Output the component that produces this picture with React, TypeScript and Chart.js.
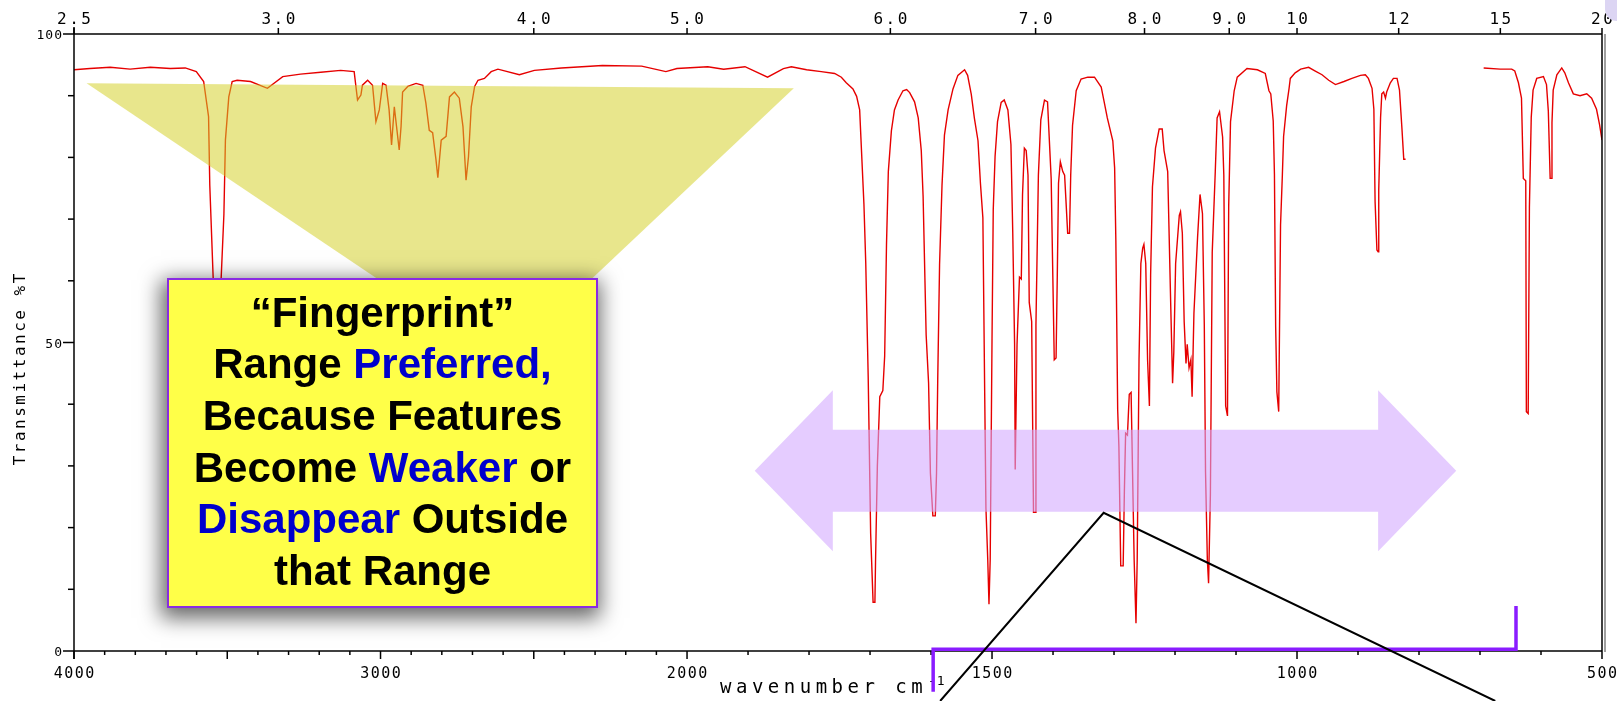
import React, { useEffect, useRef } from "react";
import { Chart, registerables } from "chart.js";

Chart.register(...registerables);

// ---- spectrum data (wavenumber cm-1, transmittance %T); null = gap in the trace ----
const WAVENUMBERS = [
  4000, 3948, 3882, 3817, 3751, 3686, 3637, 3601, 3577, 3561,
  3557, 3546, 3540, 3530, 3522, 3511, 3506, 3495, 3484, 3468,
  3424, 3369, 3319, 3261, 3195, 3130, 3086, 3075, 3064, 3059,
  3042, 3026, 3015, 3004, 2993, 2982, 2972, 2964, 2955, 2939,
  2933, 2928, 2911, 2884, 2862, 2852, 2841, 2830, 2819, 2813,
  2802, 2786, 2775, 2759, 2743, 2731, 2721, 2713, 2704, 2693,
  2682, 2661, 2639, 2617, 2547, 2498, 2410, 2276, 2148, 2069,
  2033, 1966, 1940, 1905, 1868, 1842, 1829, 1804, 1780, 1758,
  1747, 1739, 1728, 1722, 1717, 1714, 1710, 1707, 1703, 1699,
  1695, 1692, 1691, 1688, 1684, 1679, 1676, 1673, 1670, 1665,
  1660, 1654, 1646, 1640, 1635, 1627, 1621, 1616, 1613, 1608,
  1604, 1601, 1597, 1593, 1591, 1589, 1586, 1582, 1578, 1572,
  1564, 1556, 1545, 1540, 1534, 1529, 1523, 1519, 1515, 1512,
  1510, 1507, 1505, 1503, 1500, 1498, 1495, 1491, 1485, 1480,
  1474, 1469, 1466, 1463, 1462, 1459, 1455, 1452, 1450, 1447,
  1444, 1441, 1439, 1435, 1432, 1429, 1428, 1424, 1420, 1414,
  1409, 1403, 1401, 1398, 1395, 1393, 1391, 1388, 1384, 1381,
  1379, 1376, 1373, 1371, 1368, 1362, 1354, 1343, 1332, 1321,
  1316, 1311, 1302, 1299, 1297, 1294, 1292, 1289, 1285, 1283,
  1281, 1278, 1275, 1272, 1270, 1267, 1264, 1262, 1259, 1256,
  1253, 1251, 1248, 1245, 1242, 1240, 1237, 1232, 1226, 1221,
  1218, 1212, 1210, 1207, 1204, 1202, 1199, 1193, 1191, 1188,
  1185, 1182, 1180, 1177, 1174, 1172, 1169, 1163, 1159, 1155,
  1152, 1150, 1147, 1145, 1142, 1139, 1134, 1131, 1127, 1122,
  1120, 1117, 1114, 1112, 1109, 1103, 1098, 1082, 1065, 1052,
  1046, 1043, 1039, 1037, 1035, 1033, 1030, 1027, 1024, 1022,
  1017, 1013, 1011, 1003, 994, 981, 970, 959, 948, 937,
  923, 910, 896, 888, 883, 877, 874, 872, 869, 867,
  866, 863, 861, 858, 855, 853, 847, 842, 836, 832,
  828, 825, 822, 760, 694, 667, 648, 643, 637, 632,
  629, 625, 624, 621, 619, 616, 613, 607, 596, 591,
  588, 585, 583, 582, 580, 574, 566, 561, 555, 547,
  536, 525, 517, 509, 504, 500,
];

const TRANSMITTANCE = [
  94.2, 94.4, 94.6, 94.3, 94.6, 94.4, 94.5, 93.9, 92.3, 86.6,
  75.5, 60.5, 40, 35, 58, 70.7, 82.8, 89.8, 92.3, 92.5,
  92.3, 91.2, 93.1, 93.5, 93.8, 94.1, 93.9, 89.3, 90.1, 91.7,
  92.5, 91.7, 85.8, 87.7, 92.0, 91.7, 87.7, 82.0, 88.2, 81.2,
  85.0, 90.6, 91.5, 92.0, 91.7, 88.8, 84.4, 84.0, 79.6, 76.7,
  82.8, 83.4, 89.8, 90.6, 89.6, 85.0, 76.3, 80.1, 88.2, 91.5,
  92.5, 92.8, 93.9, 94.3, 93.4, 94.1, 94.5, 94.9, 94.8, 93.9,
  94.4, 94.7, 94.3, 94.7, 93.0, 94.4, 94.7, 94.2, 93.9, 93.6,
  93.0, 92.1, 91.1, 89.9, 87.7, 81.1, 72.4, 62.8, 44.4, 19.1,
  7.9, 7.9, 14.4, 30.0, 41.2, 42.2, 47.8, 65.9, 77.7, 84.3,
  87.7, 89.3, 90.8, 91.0, 90.5, 89.0, 86.4, 81.1, 73.7, 51.2,
  43.4, 28.8, 21.9, 21.9, 28.8, 44.1, 62.6, 75.5, 83.6, 87.7,
  91.1, 93.3, 94.2, 93.3, 90.2, 86.4, 82.7, 75.8, 70.2, 41.6,
  23.2, 14.8, 7.6, 14.8, 50.6, 71.5, 80.2, 85.8, 88.9, 89.3,
  87.7, 82.1, 67.7, 49.7, 29.4, 49.7, 60.6, 60.3, 74.0, 81.5,
  81.1, 77.1, 56.5, 53.4, 22.5, 22.5, 52.8, 77.1, 86.1, 89.3,
  89.0, 76.5, 64.6, 47.2, 47.5, 60.9, 75.8, 79.3, 77.7, 77.1,
  73.4, 67.7, 67.7, 77.1, 85.2, 90.8, 92.7, 93.0, 93.0, 91.4,
  88.9, 86.4, 82.7, 78.3, 66.5, 39.1, 33.1, 13.8, 13.8, 26.0,
  35.3, 35.0, 41.6, 41.9, 31.0, 14.8, 4.5, 14.8, 47.2, 62.8,
  65.3, 65.9, 62.8, 47.2, 39.7, 60.9, 75.2, 81.5, 84.6, 84.6,
  81.1, 77.7, 69.0, 55.9, 43.4, 48.4, 62.8, 70.6, 71.2, 67.7,
  53.4, 46.6, 49.7, 45.9, 47.2, 41.2, 54.7, 67.1, 74.0, 70.9,
  52.8, 29.1, 14.8, 11.0, 25.4, 64.6, 77.7, 86.4, 87.4, 83.3,
  77.1, 39.7, 38.1, 72.1, 85.8, 90.8, 93.0, 94.4, 94.2, 93.6,
  90.8, 90.3, 85.9, 77.2, 52.6, 42.0, 38.8, 69.1, 77.2, 83.4,
  88.4, 91.2, 92.8, 93.7, 94.3, 94.6, 94.0, 93.4, 92.5, 91.8,
  92.3, 92.8, 93.3, 93.4, 92.8, 91.2, 87.8, 72.8, 65.0, 64.7,
  74.7, 86.5, 90.3, 90.6, 89.6, 90.6, 92.1, 92.8, 92.8, 90.9,
  84.7, 79.7, 79.7, null, 94.5, 94.3, 94.3, 94.0, 92.1, 89.6,
  76.6, 76.2, 38.8, 38.5, 71.9, 86.5, 90.9, 92.8, 93.1, 91.8,
  87.5, 76.6, 76.6, 85.6, 90.9, 93.4, 94.5, 93.7, 92.1, 90.3,
  90.0, 90.3, 89.6, 87.8, 85.3, 82.8,
];

// ---- axes ----
const WN_MAX = 4000;
const WN_MIN = 500;
const WN_SPLIT = 2000; // scale doubles below 2000 cm-1
const SPLIT_STRETCH = 1.99;
const BOTTOM_TICK_STEP = 100;
const BOTTOM_MAJOR_STEP = 500;
const BOTTOM_LABELS = [4000, 3000, 2000, 1500, 1000, 500];
const TOP_WAVELENGTHS = [2.5, 3, 4, 5, 6, 7, 8, 9, 10, 12, 15, 20];
const TOP_LABELS = ["2.5", "3.0", "4.0", "5.0", "6.0", "7.0", "8.0", "9.0", "10", "12", "15", "20"];
const Y_MIN = 0;
const Y_MAX = 100;
const Y_TICK_STEP = 10;
const Y_LABELS = [0, 50, 100];
const Y_TITLE = "Transmittance %T";
const X_TITLE = "wavenumber cm";
const X_TITLE_SUP = "-1";

// ---- annotations, anchored in data units [wavenumber, %T] ----
const FUNNEL = [[3959, 92.0], [1825, 91.2], [2418, 55.3], [2860, 55.3]];
const ARROW_WN = [1889, 1761, 867, 739]; // left tip, left head base, right head base, right tip
const ARROW_MID = 29.2;
const ARROW_SHAFT_HALF = 6.65;
const ARROW_HEAD_HALF = 13.05;
const CALLOUT_LINES = [[1585, -8.1], [1317, 22.4], [675, -8.1]];
const BRACKET = [[1596.5, -6.6], [1596.5, 0.3], [641, 0.3], [641, 7.3]];

const BLACK = "#000000";
const BLUE = "#0000cc";
const BOX_LINES: [string, string][][] = [
  [["\u201CFingerprint\u201D", BLACK]],
  [["Range ", BLACK], ["Preferred,", BLUE]],
  [["Because Features", BLACK]],
  [["Become ", BLACK], ["Weaker", BLUE], [" or", BLACK]],
  [["Disappear", BLUE], [" Outside", BLACK]],
  [["that Range", BLACK]],
];

function toU(wn: number) {
  return wn >= WN_SPLIT ? WN_MAX - wn : (WN_MAX - WN_SPLIT) + (WN_SPLIT - wn) * SPLIT_STRETCH;
}

const MONO = '"DejaVu Sans Mono", monospace';

const decorPlugin = {
  id: "irDecor",
  afterDatasetsDraw(chart: any) {
    const { ctx, scales } = chart;
    const X = (wn: number) => scales.x.getPixelForValue(toU(wn));
    const Y = (t: number) => scales.y.getPixelForValue(t);
    ctx.save();
    // yellow funnel
    ctx.fillStyle = "rgba(211,207,38,0.53)";
    ctx.beginPath();
    FUNNEL.forEach(([w, t], i) => (i ? ctx.lineTo(X(w), Y(t)) : ctx.moveTo(X(w), Y(t))));
    ctx.closePath();
    ctx.fill();
    // purple double arrow
    const [lt, lb, rb, rt] = ARROW_WN;
    const m = ARROW_MID, s = ARROW_SHAFT_HALF, h = ARROW_HEAD_HALF;
    const pts = [
      [lt, m], [lb, m + h], [lb, m + s], [rb, m + s], [rb, m + h], [rt, m],
      [rb, m - h], [rb, m - s], [lb, m - s], [lb, m - h],
    ];
    ctx.fillStyle = "rgba(211,169,255,0.59)";
    ctx.beginPath();
    pts.forEach(([w, t], i) => (i ? ctx.lineTo(X(w), Y(t)) : ctx.moveTo(X(w), Y(t))));
    ctx.closePath();
    ctx.fill();
    ctx.restore();
  },
  afterDraw(chart: any) {
    const { ctx, scales, chartArea: a } = chart;
    const X = (wn: number) => scales.x.getPixelForValue(toU(wn));
    const Y = (t: number) => scales.y.getPixelForValue(t);
    const line = (x1: number, y1: number, x2: number, y2: number) => {
      ctx.beginPath();
      ctx.moveTo(x1, y1);
      ctx.lineTo(x2, y2);
      ctx.stroke();
    };
    ctx.save();
    // right edge shadow
    ctx.strokeStyle = "#a0a0a0";
    ctx.lineWidth = 2;
    line(a.right + 3, a.top, a.right + 3, a.bottom + 1);
    // frame
    ctx.strokeStyle = "#000";
    ctx.lineWidth = 1.5;
    line(a.left, a.top, a.right, a.top);
    line(a.left, a.bottom, a.right, a.bottom);
    line(a.left, a.top - 7, a.left, a.bottom + 8);
    line(a.right, a.top, a.right, a.bottom);
    // y ticks
    for (let t = Y_MIN; t <= Y_MAX; t += Y_TICK_STEP) {
      const len = t % 50 === 0 ? 11 : 6;
      line(a.left - len, Y(t), a.left, Y(t));
    }
    // bottom ticks
    for (let wn = WN_MAX; wn >= WN_MIN; wn -= BOTTOM_TICK_STEP) {
      const len = wn % BOTTOM_MAJOR_STEP === 0 ? 8 : 4;
      line(X(wn), a.bottom, X(wn), a.bottom + len);
    }
    // top ticks
    TOP_WAVELENGTHS.forEach((lam) => {
      const x = X(10000 / lam);
      line(x, a.top - 6, x, a.top);
    });

    // labels
    ctx.fillStyle = "#000";
    ctx.textBaseline = "alphabetic";
    ctx.textAlign = "center";
    ctx.font = `16px ${MONO}`;
    ctx.letterSpacing = "2.5px";
    TOP_WAVELENGTHS.forEach((lam, i) => {
      ctx.fillText(TOP_LABELS[i], X(10000 / lam) + 1.25, a.top - 10.5);
    });
    ctx.font = `15px ${MONO}`;
    ctx.letterSpacing = "1.5px";
    BOTTOM_LABELS.forEach((wn) => {
      ctx.fillText(String(wn), X(wn) + 0.75, a.bottom + 27);
    });
    ctx.textAlign = "right";
    ctx.font = `13px ${MONO}`;
    ctx.letterSpacing = "1px";
    Y_LABELS.forEach((t) => {
      ctx.fillText(String(t), a.left - 11, Y(t) + 5);
    });
    // y title
    ctx.save();
    ctx.translate(21, (a.top + a.bottom) / 2 + 27);
    ctx.rotate(-Math.PI / 2);
    ctx.textAlign = "center";
    ctx.textBaseline = "middle";
    ctx.font = `16px ${MONO}`;
    ctx.letterSpacing = "2.5px";
    ctx.fillText(Y_TITLE, 1.25, 0);
    ctx.restore();
    // x title
    ctx.textAlign = "left";
    ctx.font = `19px ${MONO}`;
    ctx.letterSpacing = "4.5px";
    ctx.fillText(X_TITLE, 720, a.bottom + 42);
    ctx.font = `13px ${MONO}`;
    ctx.letterSpacing = "1px";
    ctx.fillText(X_TITLE_SUP, 928, a.bottom + 34);
    ctx.letterSpacing = "0px";

    // purple bracket
    ctx.strokeStyle = "#8a1cff";
    ctx.lineWidth = 3.5;
    ctx.lineJoin = "miter";
    ctx.beginPath();
    BRACKET.forEach(([w, t], i) => (i ? ctx.lineTo(X(w), Y(t)) : ctx.moveTo(X(w), Y(t))));
    ctx.stroke();

    // black call-out lines
    ctx.strokeStyle = "#000";
    ctx.lineWidth = 2;
    ctx.beginPath();
    CALLOUT_LINES.forEach(([w, t], i) => (i ? ctx.lineTo(X(w), Y(t)) : ctx.moveTo(X(w), Y(t))));
    ctx.stroke();

    // lavender corner blob (top right)
    ctx.fillStyle = "#dcd5f3";
    ctx.beginPath();
    if (ctx.roundRect) ctx.roundRect(a.right + 3, -16, 40, 37, 12);
    else ctx.rect(a.right + 3, -16, 40, 37);
    ctx.fill();
    ctx.restore();
  },
};

export default function App() {
  const ref = useRef<HTMLCanvasElement>(null);

  useEffect(() => {
    const points = WAVENUMBERS.map((wn, i) => ({ x: toU(wn), y: TRANSMITTANCE[i] }));
    const chart = new Chart(ref.current as HTMLCanvasElement, {
      type: "line",
      data: {
        datasets: [
          {
            label: "IR spectrum",
            data: points as any,
            borderColor: "#e60000",
            borderWidth: 1.4,
            pointRadius: 0,
            tension: 0,
            spanGaps: false,
            fill: false,
          },
        ],
      },
      options: {
        responsive: false,
        devicePixelRatio: 1,
        animation: false,
        parsing: true,
        layout: { padding: { left: 74, top: 34, right: 15, bottom: 50 } },
        scales: {
          x: { type: "linear", min: 0, max: toU(WN_MIN), display: false },
          y: { type: "linear", min: Y_MIN, max: Y_MAX, display: false },
        },
        plugins: { legend: { display: false }, tooltip: { enabled: false } },
      },
      plugins: [decorPlugin],
    });
    return () => chart.destroy();
  }, []);

  return (
    <div
      style={{
        position: "absolute",
        left: 0,
        top: 0,
        width: 1617,
        height: 701,
        background: "#ffffff",
        overflow: "hidden",
      }}
    >
      <canvas ref={ref} width={1617} height={701} style={{ display: "block", width: 1617, height: 701 }} />
      <div
        style={{
          position: "absolute",
          left: 167,
          top: 278,
          width: 431,
          height: 330,
          boxSizing: "border-box",
          border: "2px solid #8a2be2",
          background: "#ffff48",
          boxShadow: "-2px 6px 20px 4px rgba(0,0,0,0.6)",
          display: "flex",
          flexDirection: "column",
          justifyContent: "center",
          alignItems: "center",
          paddingBottom: 3,
          fontFamily: '"Liberation Sans", Arial, sans-serif',
          fontWeight: "bold",
          fontSize: 42,
          lineHeight: "51.6px",
          textAlign: "center",
          whiteSpace: "nowrap",
        }}
      >
        {BOX_LINES.map((segs, i) => (
          <div key={i}>
            {segs.map(([text, color], j) => (
              <span key={j} style={{ color, whiteSpace: "pre" }}>
                {text}
              </span>
            ))}
          </div>
        ))}
      </div>
    </div>
  );
}
